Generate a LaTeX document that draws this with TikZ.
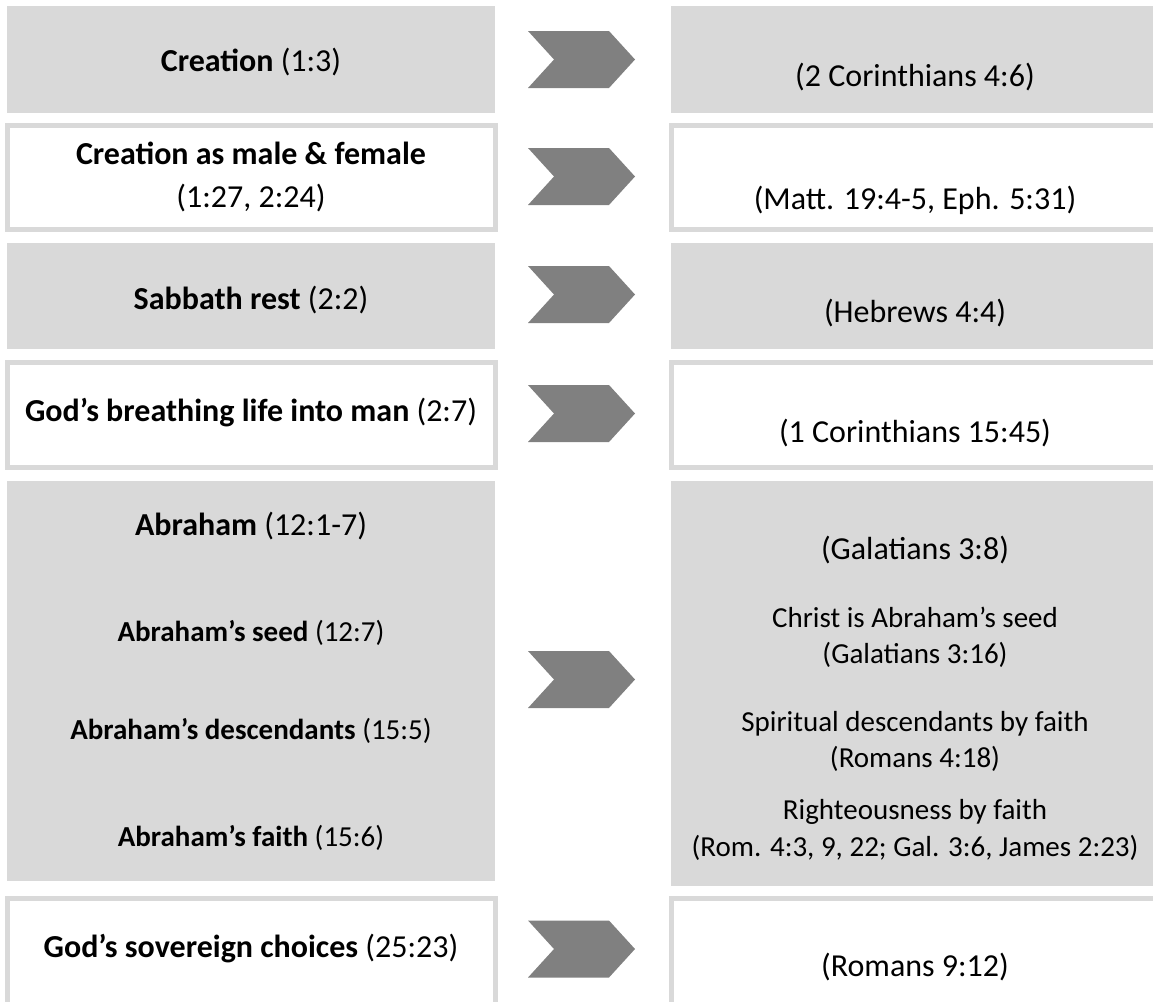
\documentclass[tikz,border=0pt]{standalone}
\usepackage{fontspec}
\setmainfont{Carlito}
\definecolor{boxgray}{HTML}{D9D9D9}
\definecolor{chevgray}{HTML}{808080}
\newcommand{\mypar}{\vphantom{()}}
\begin{document}
\begin{tikzpicture}[x=1pt,y=-1pt,
  graybox/.style={fill=boxgray},
  whitebox/.style={draw=boxgray,line width=5pt,fill=white},
  big/.style={font=\fontsize{32}{39}\selectfont,inner sep=0pt,anchor=center,execute at begin node=\mypar},
  small/.style={font=\fontsize{29}{35}\selectfont,inner sep=0pt,anchor=center,execute at begin node=\mypar},
  chev/.pic={\fill[chevgray] (-53.5,-28.5) -- (27.5,-28.5) -- (53.5,0) -- (27.5,28.5) -- (-53.5,28.5) -- (-27.5,0) -- cycle;}]
\useasboundingbox (0,0) rectangle (1153,1001);
\clip (0,0) rectangle (1153,1001);
% row 1
\path[graybox] (7,6) rectangle (495,112.5);
\path[graybox] (671,6) rectangle (1170,112.5);
\pic at (581.5,59.5) {chev};
\node[big] (L1) at (251,62) {\textbf{Creation} (1:3)};
\node[big] (R1) at (915,77) {(2 Corinthians 4:6)};
% row 2
\path[whitebox] (7.5,125.5) rectangle (495.5,229.5);
\path[whitebox] (671,125.5) rectangle (1175,229.5);
\pic at (581.5,176.5) {chev};
\node[big] (L2a) at (251,155) {\textbf{Creation as male \& female}};
\node[big] (L2b) at (251,198) {(1:27, 2:24)};
\node[big] (R2) at (915,200) {(Matt. 19:4-5, Eph. 5:31)};
% row 3
\path[graybox] (7,243) rectangle (495,348.5);
\path[graybox] (671,243) rectangle (1170,348.5);
\pic at (581.5,294.5) {chev};
\node[big] (L3) at (251,300) {\textbf{Sabbath rest} (2:2)};
\node[big] (R3) at (915,313) {(Hebrews 4:4)};
% row 4
\path[whitebox] (7.5,362.5) rectangle (495.5,467.5);
\path[whitebox] (671,362.5) rectangle (1175,467.5);
\pic at (581.5,413.5) {chev};
\node[big] (L4) at (251,413) {\textbf{God’s breathing life into man} (2:7)};
\node[big] (R4) at (915,433) {(1 Corinthians 15:45)};
% row 5
\path[graybox] (7,481) rectangle (495,880.5);
\path[graybox] (671,481) rectangle (1170,885.5);
\pic at (581.5,679.5) {chev};
\node[big] (L5a) at (251,526) {\textbf{Abraham} (12:1-7)};
\node[small] (L5b) at (251,633) {\textbf{Abraham’s seed} (12:7)};
\node[small] (L5c) at (251,731) {\textbf{Abraham’s descendants} (15:5)};
\node[small] (L5d) at (251,838) {\textbf{Abraham’s faith} (15:6)};
\node[big] (R5a) at (915,550) {(Galatians 3:8)};
\node[small] (R5b) at (915,619) {Christ is Abraham’s seed};
\node[small] (R5c) at (915,655) {(Galatians 3:16)};
\node[small] (R5d) at (915,723) {Spiritual descendants by faith};
\node[small] (R5e) at (915,759) {(Romans 4:18)};
\node[small] (R5f) at (915,811) {Righteousness by faith};
\node[small] (R5g) at (915,848) {(Rom. 4:3, 9, 22; Gal. 3:6, James 2:23)};
% row 6
\path[whitebox] (7.5,898) rectangle (495.5,1004);
\path[whitebox] (671,898) rectangle (1175,1004);
\pic at (581.5,949) {chev};
\node[big] (L6) at (251,948) {\textbf{God’s sovereign choices} (25:23)};
\node[big] (R6) at (915,967) {(Romans 9:12)};
\end{tikzpicture}
\end{document}
